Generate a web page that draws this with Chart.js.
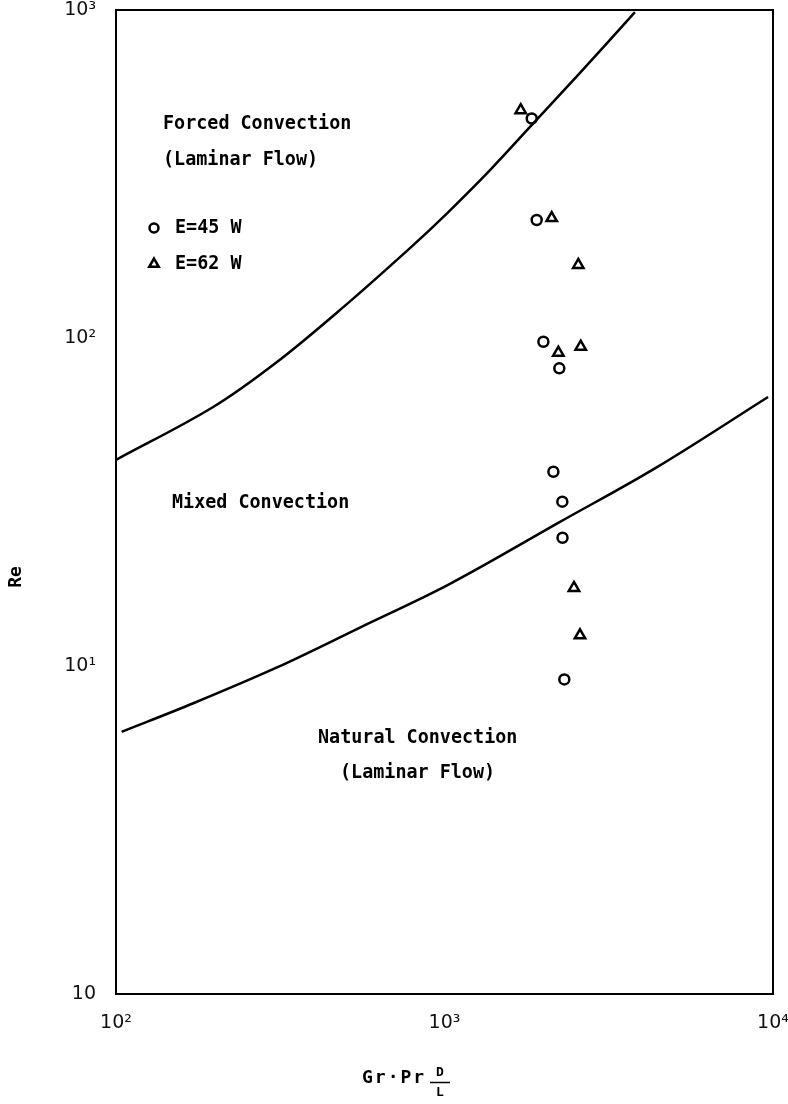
<!DOCTYPE html>
<html>
<head>
<meta charset="utf-8">
<script src="https://cdn.jsdelivr.net/npm/chart.js@4.4.0/dist/chart.umd.min.js"></script>
<style>
    html, body { margin: 0; padding: 0; background: #fff; }
    #wrap { width: 788px; height: 1104px; }
</style>
</head>
<body>
<div id="wrap"><canvas id="regimeChart"></canvas></div>
<script>
// Axis ticks
const xTicks = [100, 1000, 10000];
const xTickLabels = ['10²', '10³', '10⁴'];
const yTicks = [1, 10, 100, 1000];
const yTickLabels = ['10', '10¹', '10²', '10³'];

// Boundary forced / mixed convection
const upperX = [100, 197, 309, 491, 785, 1018, 1376, 1821, 2585, 3800];
const upperY = [42.5, 61.5, 84.5, 124, 188, 240, 325, 440, 643, 985];

// Boundary mixed / natural convection
const lowerX = [104, 172, 309, 553, 1039, 2247, 4436, 9660];
const lowerY = [6.3, 7.7, 9.9, 13.1, 17.8, 27.5, 40.4, 66.1];

// Measurements, E = 45 W (circles)
const e45X = [1843, 1908, 2000, 2236, 2145, 2284, 2287, 2316];
const e45Y = [467, 229, 97.4, 80.8, 39.1, 31.7, 24.6, 9.1];

// Measurements, E = 62 W (triangles)
const e62X = [1706, 2120, 2554, 2598, 2221, 2478, 2585];
const e62Y = [495, 232, 167, 94.1, 90.2, 17.3, 12.4];

const toPoints = (xs, ys) => xs.map((x, i) => ({ x: x, y: ys[i] }));

const MONO = '"DejaVu Sans Mono", "Liberation Mono", monospace';

// draws the frame, region names, legend and axis titles
const annotate = {
    id: 'annotate',
    afterDatasetsDraw(chart) {
        const ctx = chart.ctx;
        const a = chart.chartArea;
        ctx.save();

        // frame
        ctx.strokeStyle = '#000';
        ctx.lineWidth = 2;
        ctx.strokeRect(a.left, a.top, a.right - a.left, a.bottom - a.top);

        ctx.fillStyle = '#000';
        ctx.textBaseline = 'middle';
        ctx.textAlign = 'left';
        ctx.font = 'bold 20px ' + MONO;
        const label = (text, x, y) => {
            ctx.save();
            ctx.translate(x, y);
            ctx.scale(0.92, 1);
            ctx.fillText(text, 0, 0);
            ctx.restore();
        };
        label('Forced Convection', 163, 124);
        label('(Laminar Flow)', 163, 160);
        label('Mixed Convection', 172, 503);
        label('Natural Convection', 318, 738);
        label('(Laminar Flow)', 340, 773);

        // legend
        label('E=45 W', 175, 228);
        label('E=62 W', 175, 264);
        ctx.fillStyle = '#fff';
        ctx.strokeStyle = '#000';
        ctx.lineWidth = 2.5;
        Chart.helpers.drawPoint(ctx, { pointStyle: 'circle', radius: 4.5, rotation: 0, borderWidth: 2.5 }, 154, 228);
        Chart.helpers.drawPoint(ctx, { pointStyle: 'triangle', radius: 5.5, rotation: 0, borderWidth: 2.5 }, 154, 264);

        // y title
        ctx.fillStyle = '#000';
        ctx.font = 'bold 18px ' + MONO;
        ctx.save();
        ctx.translate(16, 577);
        ctx.rotate(-Math.PI / 2);
        ctx.textAlign = 'center';
        ctx.fillText('Re', 0, 0);
        ctx.restore();

        // x title: Gr·Pr D/L
        ctx.font = 'bold 18px ' + MONO;
        ctx.textAlign = 'left';
        ctx.letterSpacing = '2px';
        ctx.fillText('Gr·Pr', 362, 1078);
        ctx.letterSpacing = '0px';
        ctx.font = 'bold 13px ' + MONO;
        ctx.textAlign = 'center';
        ctx.fillText('D', 440, 1073);
        ctx.fillText('L', 440, 1093);
        ctx.lineWidth = 1.5;
        ctx.beginPath();
        ctx.moveTo(430, 1082.5);
        ctx.lineTo(450, 1082.5);
        ctx.stroke();

        ctx.restore();
    }
};

const ctx = document.getElementById('regimeChart').getContext('2d');
new Chart(ctx, {
    type: 'scatter',
    data: {
        datasets: [
            {
                label: 'upper',
                data: toPoints(upperX, upperY),
                showLine: true,
                borderColor: '#000',
                borderWidth: 2.5,
                pointRadius: 0,
                tension: 0.35
            },
            {
                label: 'lower',
                data: toPoints(lowerX, lowerY),
                showLine: true,
                borderColor: '#000',
                borderWidth: 2.5,
                pointRadius: 0,
                tension: 0.35
            },
            {
                label: 'E=45 W',
                data: toPoints(e45X, e45Y),
                pointStyle: 'circle',
                pointRadius: 5,
                pointBorderWidth: 2.5,
                pointBorderColor: '#000',
                pointBackgroundColor: '#fff'
            },
            {
                label: 'E=62 W',
                data: toPoints(e62X, e62Y),
                pointStyle: 'triangle',
                pointRadius: 6,
                pointBorderWidth: 2.5,
                pointBorderColor: '#000',
                pointBackgroundColor: '#fff'
            }
        ]
    },
    options: {
        responsive: true,
        maintainAspectRatio: false,
        animation: false,
        layout: { padding: { top: 10, right: 15, left: 0, bottom: 0 } },
        plugins: {
            legend: { display: false },
            tooltip: { enabled: false }
        },
        scales: {
            x: {
                type: 'logarithmic',
                min: 100,
                max: 10000,
                grid: { display: false },
                border: { display: false },
                afterBuildTicks: (scale) => { scale.ticks = xTicks.map(v => ({ value: v })); },
                afterFit: (scale) => {
                    scale.height = 110;
                    scale.paddingLeft = 0;
                    scale.paddingRight = 0;
                },
                ticks: {
                    autoSkip: false,
                    maxRotation: 0,
                    padding: 10,
                    color: '#111',
                    font: { family: '"DejaVu Sans", sans-serif', size: 19 },
                    callback: (value, index) => xTickLabels[index]
                }
            },
            y: {
                type: 'logarithmic',
                min: 1,
                max: 1000,
                grid: { display: false },
                border: { display: false },
                afterBuildTicks: (scale) => { scale.ticks = yTicks.map(v => ({ value: v })); },
                afterFit: (scale) => {
                    scale.width = 116;
                    scale.paddingTop = 0;
                    scale.paddingBottom = 0;
                },
                ticks: {
                    autoSkip: false,
                    padding: 12,
                    color: '#111',
                    font: { family: '"DejaVu Sans", sans-serif', size: 19 },
                    callback: (value, index) => yTickLabels[index]
                }
            }
        }
    },
    plugins: [annotate]
});
</script>
</body>
</html>
